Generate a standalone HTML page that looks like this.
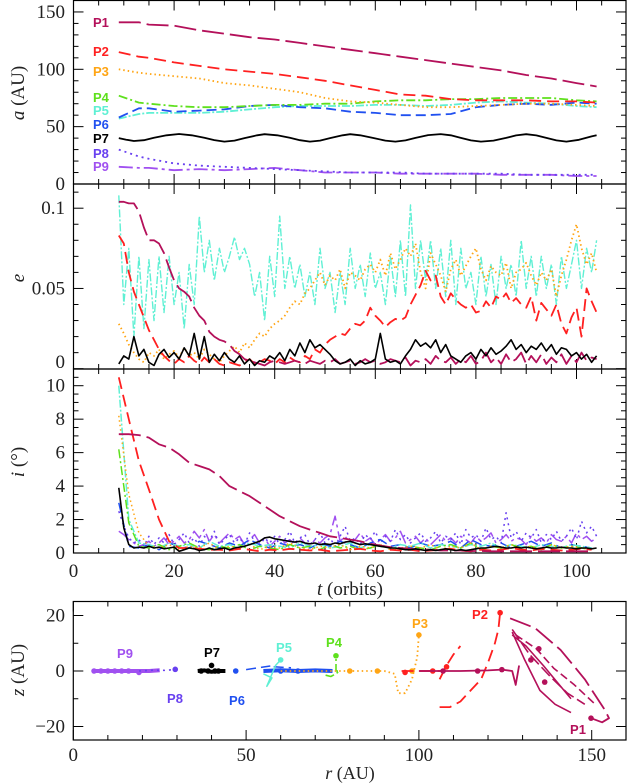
<!DOCTYPE html>
<html><head><meta charset="utf-8"><style>
html,body{margin:0;padding:0;background:#fff;}
svg{display:block;font-family:"Liberation Serif",serif;}
.lbl{font-family:"Liberation Sans",sans-serif;font-weight:bold;font-size:13px;}
</style></head><body>
<svg id="c" width="628" height="784" viewBox="0 0 628 784" xmlns="http://www.w3.org/2000/svg"></svg>
<script>
// ---------- data ----------
const tStart=9;
const aT=[9,13,15,20,25,30,35,40,45,50,55,60,65,70,75,80,85,90,95,100,104];
const aP1=[141,141,139,138,134,131,128,126,123,120,117,114,111,108,105,102,99,95,92,88,85];
const aP2=[115,111,110,106,103,100,98,96,93,90,86,82,78,77,74,73,73,73,72,72,71];
const aP3=[100,97,96,94,92,88,86,83,80,75,72,71,69,67,67,68,69,70,70,69,68];
const aP4=[77,71,70,68,67,67,68,69,69,70,70,72,73,73,74,74,75,75,75,73,72];
const aP5=[57,61,62,62,62,63,65,67,68,68,68,69,69,68,69,71,72,71,70,68,67];
const aP6=[58,66,66,63,64,65,68,69,67,66,63,62,60,60,61,67,69,70,69,71,70];
const aP8=[30,24,22,18,16,15,14,13,12,11,10,10,10,9,9,9,9,8,8,8,8];
const aP9=[15,14,14,12,13,12,13,14,12,10,10,10,9,9,9,9,8,8,8,7,7];
const a7T=[9,10.5,12,14,16,18.5,21,23.5,26,28,30,32,34,36.5,38,40.5,43,45,47,49,51,53.5,55,57,59.5,62,64,66,68,70.5,73,75,77,79,81,83.5,86,88,90,92,94,96,98,100.5,103,104];
const aP7=[40,38.6,37.5,38.2,40.3,42.5,43.6,42.5,40.3,38.3,37,37.8,40,42.5,43.4,42.5,40.3,38.2,37,37.8,40,42.5,43.4,42.5,40.2,37.8,37,38,40.2,42.6,43.5,42.5,40.2,38,37,37.8,40.2,42.4,43.4,42.4,40.2,38,37,38.5,41.5,42.5];
const eP1=[.104,.104,.103,.103,.098,.088,.08,.08,.078,.072,.063,.055,.05,.048,.045,.038,.033,.03,.023,.02,.018,.017,.015,.011,.009,.006,.005,.004,.003,.002,.004,.005,.004,.003,.004,.005,.004,.003,.005,.004,.003,.005,.004,.006,.003,.004,.005,.003,.004,.006,.004,.005,.003,.004,.006,.005,.004,.007,.002,.005,.004,.006,.003,.008,.005,.004,.007,.003,.006,.004,.008,.003,.005,.01,.004,.007,.003,.009,.004,.006,.01,.003,.008,.004,.009,.003,.007,.004,.009,.003,.008,.004,.01,.005,.007,.006];
const eP2=[.083,.078,.06,.048,.04,.032,.024,.018,.012,.008,.005,.003,.006,.004,.008,.005,.003,.007,.004,.006,.003,.002,.004,.003,.002,.004,.006,.003,.004,.006,.005,.003,.006,.004,.007,.005,.004,.008,.006,.012,.01,.015,.018,.02,.022,.021,.025,.028,.027,.03,.038,.033,.03,.026,.029,.031,.03,.032,.04,.046,.052,.061,.055,.058,.045,.04,.047,.043,.04,.038,.04,.035,.036,.042,.038,.045,.043,.047,.041,.044,.04,.038,.045,.03,.041,.037,.033,.04,.028,.022,.032,.038,.02,.05,.042,.035];
const eP3=[.028,.022,.015,.01,.006,.004,.01,.008,.012,.006,.009,.011,.007,.013,.008,.01,.006,.012,.009,.006,.004,.008,.011,.014,.01,.016,.013,.018,.022,.02,.025,.028,.03,.033,.038,.042,.04,.047,.05,.055,.06,.052,.058,.055,.062,.05,.06,.058,.055,.062,.065,.06,.068,.058,.072,.062,.068,.075,.07,.078,.06,.05,.072,.065,.058,.048,.062,.068,.058,.064,.07,.075,.062,.055,.064,.06,.058,.066,.05,.06,.062,.066,.058,.052,.06,.055,.062,.045,.058,.068,.08,.09,.075,.065,.072,.06];
const eP5=[.108,.04,.075,.02,.07,.025,.068,.03,.07,.035,.07,.04,.06,.025,.065,.04,.095,.06,.08,.055,.075,.06,.07,.082,.068,.075,.065,.045,.06,.03,.07,.045,.095,.05,.07,.05,.065,.045,.06,.04,.075,.05,.06,.035,.06,.04,.075,.05,.065,.045,.072,.05,.06,.04,.07,.045,.08,.045,.102,.05,.08,.055,.08,.05,.075,.045,.08,.04,.075,.05,.06,.04,.07,.045,.065,.04,.07,.05,.065,.045,.08,.05,.07,.045,.07,.05,.065,.04,.07,.05,.065,.08,.05,.075,.06,.08];
const eP7=[.003,.008,.006,.02,.008,.012,.004,.002,.009,.012,.007,.01,.006,.013,.008,.022,.006,.02,.004,.009,.005,.01,.006,.004,.008,.003,.006,.002,.005,.004,.008,.006,.01,.005,.012,.008,.016,.01,.018,.013,.015,.012,.009,.005,.003,.004,.006,.002,.005,.003,.004,.006,.022,.006,.004,.005,.003,.008,.012,.018,.014,.016,.013,.018,.01,.015,.008,.006,.004,.008,.01,.006,.012,.008,.013,.009,.011,.014,.018,.012,.015,.01,.014,.012,.016,.011,.015,.009,.013,.012,.008,.01,.006,.009,.004,.008];
const iP7=[3.9,1.5,0.5,0.3,0.35,0.3,0.4,0.3,0.35,0.25,0.3,0.35,0.1,0.2,0.3,0.25,0.15,0.2,0.3,0.2,0.25,0.3,0.2,0.3,0.35,0.4,0.5,0.6,0.7,0.9,0.95,0.85,0.8,0.75,0.7,0.65,0.7,0.6,0.55,0.6,0.5,0.55,0.5,0.6,0.55,0.65,0.7,0.6,0.5,0.55,0.5,0.45,0.4,0.35,0.3,0.3,0.25,0.2,0.2,0.25,0.2,0.15,0.2,0.15,0.2,0.25,0.2,0.15,0.2,0.15,0.2,0.25,0.3,0.3,0.35,0.4,0.35,0.3,0.3,0.35,0.3,0.35,0.3,0.25,0.3,0.35,0.3,0.3,0.35,0.3,0.3,0.25,0.3,0.3,0.25,0.3];
const iP8=[2.5,1.6,0.9,0.6,0.8,0.4,1.0,0.5,0.9,0.6,1.1,0.5,0.8,1.2,0.6,0.9,0.4,1.0,0.7,1.3,0.5,0.8,1.1,0.6,0.9,0.5,1.2,0.7,0.4,0.9,0.6,1.0,0.5,0.8,1.3,0.6,0.9,1.1,0.5,0.8,1.2,0.6,0.9,0.4,1.0,1.6,0.7,0.9,0.5,1.1,0.8,1.3,0.6,1.0,0.7,1.4,0.8,1.1,0.6,0.9,1.2,0.7,0.9,1.3,0.6,1.0,0.8,1.2,0.5,1.4,0.9,1.1,0.7,1.5,0.8,1.0,0.6,2.4,0.9,1.3,0.7,1.2,0.9,1.4,0.6,1.1,0.8,1.3,0.7,1.0,1.5,0.8,1.9,1.2,1.6,1.0];
const iP9=[1.3,1.1,0.8,0.6,0.4,0.5,0.7,0.4,0.6,0.9,0.5,0.7,1.0,0.6,0.8,1.3,0.9,1.4,0.7,1.1,0.6,0.9,1.2,0.8,1.0,0.5,0.8,1.1,0.6,0.9,0.4,0.7,1.0,0.6,0.8,0.5,0.9,0.6,0.4,0.8,0.6,0.9,1.1,2.2,0.7,1.0,0.6,0.8,1.2,0.7,0.9,0.5,0.8,1.1,0.7,0.9,1.3,0.6,0.8,1.0,0.6,0.9,0.5,0.8,1.1,0.7,0.9,0.6,1.0,0.8,0.6,1.0,0.7,0.9,1.2,0.6,0.8,1.1,0.7,0.9,0.8,0.5,1.0,0.7,0.9,0.6,1.1,0.8,0.7,1.0,0.6,1.2,0.8,1.0,0.7,0.9];
const iP1=[7.1,7.1,7.05,6.9,6.5,6.3,5.9,5.4,5.2,5.0,4.6,4.0,3.7,3.4,3.0,2.6,2.2,1.9,1.6,1.4,1.2,1.0,0.9,0.8,0.7,0.55,0.45,0.35,0.3,0.25,0.2,0.2,0.15,0.15,0.15,0.12,0.12,0.1,0.1,0.1,0.1,0.1,0.1,0.1,0.1,0.1,0.1,0.1];
const iP2=[10.5,8,5.5,3.8,2,0.7,0.3,0.3,0.25,0.2,0.2,0.15,0.25,0.2,0.1,0.2,0.15,0.25,0.2,0.15,0.2,0.1,0.15,0.2,0.25,0.15,0.1,0.2,0.15,0.2,0.1,0.15,0.2,0.25,0.15,0.1,0.2,0.15,0.2,0.3,0.2,0.15,0.25,0.2,0.15,0.2,0.25,0.2];
const iP3=[8.2,3.5,1.2,0.4,0.3,0.5,0.2,0.4,0.3,0.6,0.2,0.4,0.3,0.5,0.2,0.4,0.3,0.6,0.3,0.2,0.4,0.3,0.5,0.2,0.4,0.3,0.5,0.2,0.3,0.4,0.3,0.5,0.2,0.4,0.3,0.6,0.2,0.4,0.3,0.5,0.3,0.4,0.2,0.5,0.3,0.4,0.3,0.2];
const iP4=[6.2,1.8,0.4,0.3,0.5,0.2,0.4,0.6,0.3,0.2,0.4,0.3,0.5,0.2,0.4,0.3,0.2,0.5,0.3,0.4,0.2,0.5,0.3,0.4,0.2,0.3,0.5,0.3,0.2,0.4,0.3,0.2,0.4,0.5,0.3,0.6,0.2,0.4,0.3,0.5,0.3,0.4,0.2,0.5,0.3,0.4,0.3,0.2];
const iP5=[10,2,0.6,0.5,0.3,0.6,0.4,0.5,0.3,0.7,0.4,0.5,0.3,0.6,0.4,0.5,0.4,0.3,0.6,0.4,0.5,0.3,0.4,0.6,0.3,0.5,0.4,0.3,0.5,0.4,0.6,0.3,0.5,0.4,0.3,0.5,0.4,0.6,0.3,0.5,0.4,0.3,0.5,0.4,0.3,0.5,0.4,0.3];
const iP6=[3,0.4,0.3,0.5,0.2,0.6,0.4,0.3,0.7,0.5,0.3,0.6,0.4,0.8,0.5,0.3,0.6,0.4,0.5,0.3,0.6,0.4,0.7,0.5,0.3,0.6,0.8,0.4,0.5,0.3,0.6,0.4,0.5,0.7,0.3,0.8,0.5,0.4,0.6,0.3,0.5,0.7,0.4,0.6,0.3,0.5,0.4,0.3];
const rzP9=[[6,0],[9,0],[12,0],[15,0],[18,0],[22,0],[25,0.3]];
const dotsP9=[[6,0],[8,0],[10,0],[12,0],[14,0],[16,0],[19,-0.5]];
const rzP8=[[19,0],[23,0.3],[27,0.2],[29.5,0.6]];
const rzP7=[[36,0],[38,0.2],[40,-0.3],[42,0],[44,0]];
const dotsP7=[[37,0],[39,0],[40,2],[41,0],[42,0]];
const rzP6a=[[50,0.5],[57,1.8]];
const rzP6b=[[55,0],[60,0.3],[65,0],[70,0.2],[75,0]];
const rzP6c=[[58,1.5],[63,1.2]];
const dotsP6=[[47,0],[60,0],[65,0]];
const rzP5=[[60,4],[58.5,2],[56,-5.5],[57.5,-2.5],[55,-1]];
const rzP4=[[73,-1.5],[74.5,-2],[76,-1],[77,0],[76,0],[76,5.5]];
const rzP3=[[60,0],[70,0],[80,0],[90,0],[93,-1],[94,-8],[96,-8],[98,-3],[99.5,5],[100,13]];
const dotsP3=[[80,0],[88,0],[98,0],[100,13]];
const rzP2a=[[95,0],[100,0],[107,0]];
const rzP2b=[[106,-13],[109,-13],[112,-11],[115,-7],[118,-3],[120,3],[122,10],[123,15],[123.5,21]];
const rzP2c=[[106,-3],[108,2],[110,6],[112,9]];
const dotsP2=[[96,-0.5],[104,0],[108,1.5],[123.5,21]];
const rzP1a=[[100,0],[112,0],[120,0.2],[124,0.5],[127,0],[128,-5],[129,2]];
const rzP1b=[[126.4,19],[133.6,15.5],[141,7.6],[148,-3],[153.8,-14],[155,-17],[153,-18.5],[149.8,-17]];
const rzP1c=[[127,14],[130.6,4],[135,-7],[139.4,-12],[144,-15]];
const rzP1d=[[127,15],[132,6],[138,-2],[143,-8],[148,-12]];
const rzP1e=[[128,13],[134,8],[139,1],[145,-5],[151,-12]];
const rzP1f=[[127,13],[131,9],[136,2],[140,-4],[144,-10]];
const dotsP1=[[107,0],[117,0],[124,0.5],[132.4,4],[136.4,-4],[134.7,8],[149.8,-17]];

// ---------- scales ----------
const xT=t=>73.5+t*5.03;
const yA=a=>184-a*1.147;
const yE=e=>368.7-e*1605;
const yI=i=>553-i*16.73;
const xR=r=>73.3+r*3.456;
const yZ=z=>671-z*2.775;

const C={P1:"#b4105a",P2:"#ff2020",P3:"#ffa514",P4:"#5ee01c",P5:"#5ff0d4",P6:"#2050f0",P7:"#000000",P8:"#6840f0",P9:"#a050f0"};
const D={P1:"22 6",P2:"12 6",P3:"1.5 3",P4:"9 3 2 3",P5:"8 2 2 2",P6:"10 5",P7:"",P8:"2 4",P9:"14 4 3 4"};
const svg=document.getElementById('c');
const NS="http://www.w3.org/2000/svg";
function el(tag,attrs,parent){const e=document.createElementNS(NS,tag);for(const k in attrs)e.setAttribute(k,attrs[k]);(parent||svg).appendChild(e);return e;}
function line(pts,p,name,w){const e=el('polyline',{points:pts.map(q=>q[0].toFixed(1)+','+q[1].toFixed(1)).join(' '),fill:'none',stroke:C[p],'stroke-width':w||1.8,'stroke-dasharray':D[p],'stroke-linejoin':'round'});


return e;}
function seriesStep(vals,step,yf){return vals.map((v,k)=>[xT(tStart+k*step),yf(v)]);}
function seriesT(ts,vals,yf){return vals.map((v,k)=>[xT(ts[k]),yf(v)]);}
function text(x,y,s,attrs,name){const e=el('text',Object.assign({x:x,y:y},attrs||{}));e.textContent=s;


return e;}

// ---------- frames & ticks ----------
const panels=[[0.5,184],[184,369],[369,553]];
panels.forEach((p,k)=>{const r=el('rect',{x:73.5,y:p[0],width:552.5,height:p[1]-p[0],fill:'none',stroke:'#000','stroke-width':1.2});


for(let t=0;t<=105;t+=5){const L=t%20===0?10:5;const x=xT(t);
el('line',{x1:x,y1:p[0],x2:x,y2:p[0]+L,stroke:'#000','stroke-width':1});
el('line',{x1:x,y1:p[1],x2:x,y2:p[1]-L,stroke:'#000','stroke-width':1});}
});
function yticks(minv,maxv,minor,major,yf,top,bot){for(let v=minv;v<=maxv+1e-9;v+=minor){const y=yf(v);if(y<top-0.5||y>bot+0.5)continue;const mj=Math.abs(v/major-Math.round(v/major))<1e-6;const L=mj?10:5;
el('line',{x1:73.5,y1:y,x2:73.5+L,y2:y,stroke:'#000','stroke-width':1});el('line',{x1:626,y1:y,x2:626-L,y2:y,stroke:'#000','stroke-width':1});}}
yticks(0,160,10,50,yA,0,184);
yticks(0,0.11,0.01,0.05,yE,184,369);
yticks(0,10.5,0.5,2,yI,369,553);
const tf={'font-size':19,'text-anchor':'end',fill:'#222'};
[[0,'0'],[50,'50'],[100,'100'],[150,'150']].forEach(q=>text(65,yA(q[0])+6,q[1],tf,'a-tick-'+q[1]));
[[0.05,'0.05'],[0.1,'0.1']].forEach(q=>text(65,yE(q[0])+6,q[1],tf,'e-tick-'+q[1]));
text(65,368,'0',tf,'e-tick-0');
[[2,'2'],[4,'4'],[6,'6'],[8,'8'],[10,'10']].forEach(q=>text(65,yI(q[0])+6,q[1],tf,'i-tick-'+q[1]));
text(65,559,'0',tf,'i-tick-0');
[0,20,40,60,80,100].forEach(t=>text(xT(t),577,String(t),{'font-size':19,'text-anchor':'middle',fill:'#222'},'t-tick-'+t));
const ya=el('text',{x:0,y:0,transform:'translate(24,93) rotate(-90)','font-size':19,'text-anchor':'middle',fill:'#222'});

ya.innerHTML='<tspan font-style="italic">a</tspan> (AU)';
const ye=el('text',{x:0,y:0,transform:'translate(24,278) rotate(-90)','font-size':19,'text-anchor':'middle','font-style':'italic',fill:'#222'});
ye.textContent='e';
const yi=el('text',{x:0,y:0,transform:'translate(24,462) rotate(-90)','font-size':19,'text-anchor':'middle',fill:'#222'});
yi.innerHTML='<tspan font-style="italic">i</tspan> (°)';
const xt=el('text',{x:350,y:595,'font-size':19,'text-anchor':'middle',fill:'#222'});
xt.innerHTML='<tspan font-style="italic">t</tspan>  (orbits)';

const bf=el('rect',{x:73.3,y:601.5,width:552.7,height:138.5,fill:'none',stroke:'#000','stroke-width':1.2});

for(let r=0;r<=160;r+=10){const x=xR(r);if(x>626)break;const L=r%50===0?10:5;
el('line',{x1:x,y1:601.5,x2:x,y2:601.5+L,stroke:'#000','stroke-width':1});el('line',{x1:x,y1:740,x2:x,y2:740-L,stroke:'#000','stroke-width':1});}
for(let z=-20;z<=20;z+=10){const y=yZ(z);const L=z%20===0?10:5;
el('line',{x1:73.3,y1:y,x2:73.3+L,y2:y,stroke:'#000','stroke-width':1});el('line',{x1:626,y1:y,x2:626-L,y2:y,stroke:'#000','stroke-width':1});}
[[20,'20'],[0,'0'],[-20,'\u221220']].forEach(q=>text(65,yZ(q[0])+6,q[1],tf,'z-tick-'+q[0]));
[0,50,100,150].forEach(r=>text(xR(r),761,String(r),{'font-size':19,'text-anchor':'middle',fill:'#222'},'r-tick-'+r));
const yz=el('text',{x:0,y:0,transform:'translate(24,670) rotate(-90)','font-size':19,'text-anchor':'middle',fill:'#222'});
yz.innerHTML='<tspan font-style="italic">z</tspan>  (AU)';
const xr=el('text',{x:350,y:779,'font-size':18,'text-anchor':'middle',fill:'#222'});
xr.innerHTML='<tspan font-style="italic">r</tspan>  (AU)';

// ---------- panel 1: a ----------
line(seriesT(aT,aP9,yA),'P9','a-series-p9');
line(seriesT(aT,aP8,yA),'P8','a-series-p8');
line(seriesT(a7T,aP7,yA),'P7','a-series-p7');
line(seriesT(aT,aP5,yA),'P5','a-series-p5');
line(seriesT(aT,aP6,yA),'P6','a-series-p6');
line(seriesT(aT,aP4,yA),'P4','a-series-p4');
line(seriesT(aT,aP3,yA),'P3','a-series-p3');
line(seriesT(aT,aP2,yA),'P2','a-series-p2');
line(seriesT(aT,aP1,yA),'P1','a-series-p1');
const labY={P1:22,P2:51,P3:71,P4:97,P5:110,P6:124,P7:138,P8:153,P9:166};
Object.keys(labY).forEach(p=>{text(93,labY[p]+5,p,{class:'lbl',fill:C[p]},'label-'+p.toLowerCase());});

// ---------- panel 2: e ----------
line(seriesStep(eP5,1,yE),'P5','e-series-p5',1.4);
line(seriesStep(eP3,1,yE),'P3','e-series-p3');
line(seriesStep(eP2,1,yE),'P2','e-series-p2');
line(seriesStep(eP1,1,yE),'P1','e-series-p1');
line(seriesStep(eP7,1,yE),'P7','e-series-p7',1.6);

// ---------- panel 3: i ----------
line(seriesStep(iP9,1,yI),'P9','i-series-p9',1.5);
line(seriesStep(iP8,1,yI),'P8','i-series-p8',1.5);
line(seriesStep(iP6,2,yI),'P6','i-series-p6',1.5);
line(seriesStep(iP5,2,yI),'P5','i-series-p5',1.5);
line(seriesStep(iP4,2,yI),'P4','i-series-p4',1.5);
line(seriesStep(iP3,2,yI),'P3','i-series-p3',1.5);
line(seriesStep(iP2,2,yI),'P2','i-series-p2');
line(seriesStep(iP1,2,yI),'P1','i-series-p1');
line(seriesStep(iP7,1,yI),'P7','i-series-p7',1.6);

// ---------- bottom: r-z ----------
function rz(arr){return arr.map(q=>[xR(q[0]),yZ(q[1])]);}
function dots(arr,p,name){arr.forEach((q,k)=>{const c=el('circle',{cx:xR(q[0]),cy:yZ(q[1]),r:2.8,fill:C[p]});

});}
line(rz(rzP6b),'P6','rz-p6-track',4).setAttribute('stroke-dasharray','');
line(rz(rzP6a),'P6','rz-p6-track-a',1.5);
line(rz(rzP6c),'P6','rz-p6-track-c',1.5);
dots(dotsP6,'P6','rz-p6-dot');
line(rz(rzP5),'P5','rz-p5-track',1.5).setAttribute('stroke-dasharray','');
dots([[60,4]],'P5','rz-p5-dot');
line(rz(rzP4),'P4','rz-p4-track',1.6);
dots([[76,5.5]],'P4','rz-p4-dot');
line(rz(rzP3),'P3','rz-p3-track',1.8);
dots(dotsP3,'P3','rz-p3-dot');
line(rz(rzP2a),'P2','rz-p2-flat',1.8);
line(rz(rzP2b),'P2','rz-p2-loop',1.8);
line(rz(rzP2c),'P2','rz-p2-arc',1.8);
dots(dotsP2,'P2','rz-p2-dot');
line(rz(rzP1a),'P1','rz-p1-flat',1.8).setAttribute('stroke-dasharray','');
line(rz(rzP1b),'P1','rz-p1-outer',1.8);
line(rz(rzP1c),'P1','rz-p1-inner-a',1.6).setAttribute('stroke-dasharray','');
line(rz(rzP1d),'P1','rz-p1-inner-b',1.6).setAttribute('stroke-dasharray','12 4');
line(rz(rzP1e),'P1','rz-p1-inner-c',1.6).setAttribute('stroke-dasharray','8 4');
line(rz(rzP1f),'P1','rz-p1-inner-d',1.6).setAttribute('stroke-dasharray','');
dots(dotsP1,'P1','rz-p1-dot');
line(rz(rzP9),'P9','rz-p9-track',4).setAttribute('stroke-dasharray','');
dots(dotsP9,'P9','rz-p9-dot');
line(rz(rzP8),'P8','rz-p8-track',1.6);
dots([[29.5,0.6]],'P8','rz-p8-dot');
line(rz(rzP7),'P7','rz-p7-track',4);
dots(dotsP7,'P7','rz-p7-dot');
const bl={P9:[125,658],P8:[175,703],P7:[212,657],P6:[237,705],P5:[284,652],P4:[334,647],P3:[420,628],P2:[480,619],P1:[578,734]};
Object.keys(bl).forEach(p=>text(bl[p][0],bl[p][1],p,{class:'lbl','text-anchor':'middle',fill:C[p]},'rz-label-'+p.toLowerCase()));
</script>
</body></html>
